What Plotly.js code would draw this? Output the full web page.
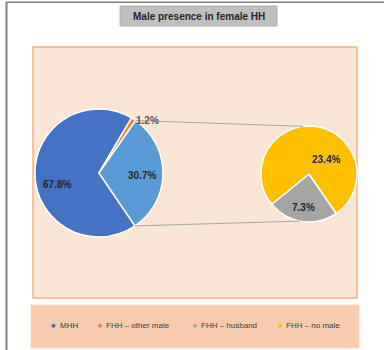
<!DOCTYPE html>
<html>
<head>
<meta charset="utf-8">
<script src="https://cdn.plot.ly/plotly-3.0.1.min.js"></script>
<style>
  html, body { margin: 0; padding: 0; background: #ffffff; }
  #chart { width: 384px; height: 350px; }
</style>
</head>
<body>
<div id="chart"></div>
<script>
// Household composition: main pie with the female-headed share split out
const mainLabels = ['MHH', 'FHH – other male', 'FHH – husband / no male'];
const mainValues = [67.8, 1.2, 30.7];
const mainColors = ['#4472C4', '#ED7D31', '#5B9BD5'];

const subLabels = ['FHH – husband', 'FHH – no male'];
const subValues = [7.3, 23.4];
const subColors = ['#A5A5A5', '#FFC000'];

const legendLabels = ['MHH', 'FHH – other male', 'FHH – husband', 'FHH – no male'];
const legendColors = ['#4472C4', '#ED7D31', '#A5A5A5', '#FFC000'];

const W = 384, H = 350;
const px = x => x / W;
const py = y => 1 - y / H;

// pie geometry (pixels)
const big = { cx: 99, cy: 173, r: 64, rot: 145.8 };
const small = { cx: 309, cy: 174, r: 48, rot: 145.3 };

const fmt = v => v.toFixed(1) + '%';
const FONT = 'Liberation Sans, Arial, sans-serif';

const data = [
  {
    type: 'pie',
    labels: mainLabels,
    values: mainValues,
    sort: false,
    direction: 'clockwise',
    rotation: big.rot,
    marker: { colors: mainColors, line: { color: '#ffffff', width: 1.5 } },
    textinfo: 'none',
    hoverinfo: 'label+percent',
    showlegend: false,
    domain: { x: [px(big.cx - big.r), px(big.cx + big.r)], y: [py(big.cy + big.r), py(big.cy - big.r)] }
  },
  {
    type: 'pie',
    labels: subLabels,
    values: subValues,
    sort: false,
    direction: 'clockwise',
    rotation: small.rot,
    marker: { colors: subColors, line: { color: '#ffffff', width: 1.5 } },
    textinfo: 'none',
    hoverinfo: 'label+value',
    showlegend: false,
    domain: { x: [px(small.cx - small.r), px(small.cx + small.r)], y: [py(small.cy + small.r), py(small.cy - small.r)] }
  }
];

// point on a pie's rim at a clockwise angle from 12 o'clock
function rim(p, deg) {
  const a = deg * Math.PI / 180;
  return [p.cx + p.r * Math.sin(a), p.cy - p.r * Math.cos(a)];
}

const mainTotal = mainValues.reduce((a, b) => a + b, 0);
const splitStart = big.rot + (mainValues[0] + mainValues[1]) / mainTotal * 360;
const splitEnd = big.rot + 360;
const bigTop = rim(big, splitStart);
const bigBot = rim(big, splitEnd);
const smallTop = rim(small, -7);
const smallBot = rim(small, 191);

const shapes = [
  // outer frame
  { type: 'line', xref: 'paper', yref: 'paper', x0: px(6.5), x1: px(6.5), y0: py(2), y1: py(350), line: { color: '#7F7F7F', width: 2 } },
  { type: 'line', xref: 'paper', yref: 'paper', x0: px(6), x1: px(384), y0: py(2.3), y1: py(2.3), line: { color: '#7F7F7F', width: 1.6 } },
  // title box
  { type: 'rect', xref: 'paper', yref: 'paper', x0: px(120), x1: px(277), y0: py(26), y1: py(6), fillcolor: '#BFBFBF', line: { color: '#B0B0B0', width: 1 }, layer: 'below' },
  // plot area
  { type: 'rect', xref: 'paper', yref: 'paper', x0: px(33), x1: px(357), y0: py(298), y1: py(47), fillcolor: '#FBE5D6', line: { color: '#F4B183', width: 1.5 }, layer: 'below' },
  // legend area
  { type: 'rect', xref: 'paper', yref: 'paper', x0: px(31), x1: px(359), y0: py(348), y1: py(305), fillcolor: '#F8CBAD', line: { color: '#FAD7C0', width: 1 }, layer: 'below' },
  // connector lines
  { type: 'line', xref: 'paper', yref: 'paper', x0: px(bigTop[0]), y0: py(bigTop[1]), x1: px(smallTop[0]), y1: py(smallTop[1]), line: { color: '#A6A6A6', width: 1 } },
  { type: 'line', xref: 'paper', yref: 'paper', x0: px(bigBot[0]), y0: py(bigBot[1]), x1: px(smallBot[0]), y1: py(smallBot[1]), line: { color: '#A6A6A6', width: 1 } }
];

const annotations = [
  { text: '<b>Male presence in female HH</b>', xref: 'paper', yref: 'paper', x: px(198.5), y: py(16.5), xanchor: 'center', yanchor: 'middle', showarrow: false, font: { family: FONT, size: 10, color: '#262626' } }
];

// slice value labels
const labelPos = [
  { v: mainValues[0], x: 56.7, y: 184.3, c: '#262626' },
  { v: mainValues[1], x: 147, y: 120, c: '#595959' },
  { v: mainValues[2], x: 141.8, y: 175.7, c: '#262626' },
  { v: subValues[0], x: 303.7, y: 207.3, c: '#262626' },
  { v: subValues[1], x: 326.3, y: 159, c: '#262626' }
];
labelPos.forEach(l => annotations.push({
  text: '<b>' + fmt(l.v) + '</b>', xref: 'paper', yref: 'paper', x: px(l.x), y: py(l.y),
  xanchor: 'center', yanchor: 'middle', showarrow: false,
  font: { family: FONT, size: 10, color: l.c }
}));

// legend row
const legendX = [53.5, 100, 195, 280];
const legendY = 325.7;
legendLabels.forEach((lab, i) => {
  const mx = legendX[i];
  shapes.push({ type: 'circle', xref: 'paper', yref: 'paper', x0: px(mx - 2), x1: px(mx + 2), y0: py(legendY + 2), y1: py(legendY - 2), fillcolor: legendColors[i], line: { width: 0 } });
  annotations.push({ text: lab, xref: 'paper', yref: 'paper', x: px(mx + 4), y: py(legendY), xanchor: 'left', yanchor: 'middle', showarrow: false, font: { family: FONT, size: 8, color: '#404040' } });
});

const layout = {
  width: W, height: H,
  margin: { l: 0, r: 0, t: 0, b: 0 },
  paper_bgcolor: '#ffffff',
  showlegend: false,
  shapes: shapes,
  annotations: annotations
};

Plotly.newPlot('chart', data, layout, { displayModeBar: false, staticPlot: true });
</script>
</body>
</html>
